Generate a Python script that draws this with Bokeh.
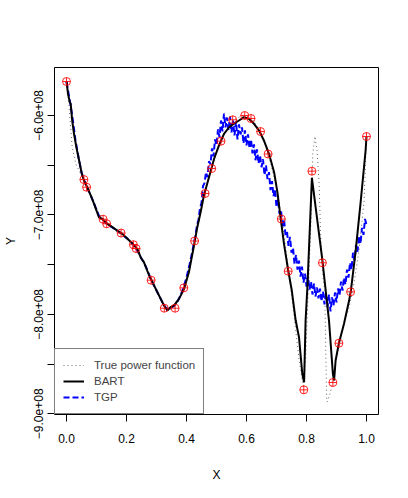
from bokeh.plotting import figure
from bokeh.models import Range1d, FixedTicker, Legend, LegendItem
from bokeh.embed import file_html
from bokeh.resources import INLINE

# ---- data ----
x_ticks = [0.0, 0.2, 0.4, 0.6, 0.8, 1.0]
x_tick_labels = ["0.0", "0.2", "0.4", "0.6", "0.8", "1.0"]
y_ticks = [-9.0e8, -8.5e8, -8.0e8, -7.5e8, -7.0e8, -6.5e8, -6.0e8]
y_tick_labels = ["\u22129.0e+08", "", "\u22128.0e+08", "", "\u22127.0e+08", "", "\u22126.0e+08"]

design_x = [0.000, 0.058, 0.067, 0.122, 0.134, 0.182, 0.223, 0.232, 0.282, 0.326,
            0.362, 0.391, 0.427, 0.462, 0.484, 0.515, 0.554, 0.594, 0.615, 0.647,
            0.672, 0.716, 0.739, 0.791, 0.818, 0.853, 0.888, 0.908, 0.947, 1.000]
design_y = [-5.658e8, -6.644e8, -6.721e8, -7.043e8, -7.089e8, -7.182e8, -7.299e8, -7.338e8, -7.656e8, -7.938e8,
            -7.938e8, -7.733e8, -7.262e8, -6.784e8, -6.533e8, -6.258e8, -6.043e8, -6.000e8, -6.030e8, -6.161e8,
            -6.387e8, -7.041e8, -7.566e8, -8.759e8, -6.560e8, -7.481e8, -8.685e8, -8.290e8, -7.773e8, -6.211e8]

true_x = [0.000, 0.008, 0.012, 0.019, 0.031, 0.047, 0.058, 0.070, 0.090, 0.110, 0.130, 0.150, 0.170,
          0.190, 0.210, 0.230, 0.250, 0.270, 0.290, 0.310, 0.330, 0.345, 0.360, 0.380, 0.400,
          0.420, 0.440, 0.460, 0.480, 0.500, 0.520, 0.540, 0.560, 0.580, 0.600, 0.620, 0.640,
          0.660, 0.680, 0.700, 0.720, 0.740, 0.760, 0.775, 0.790, 0.797, 0.806, 0.815, 0.821,
          0.828, 0.835, 0.842, 0.847, 0.855, 0.861, 0.864, 0.867, 0.869, 0.875, 0.881, 0.892,
          0.908, 0.925, 0.942, 0.958, 0.975, 0.992, 1.000]
true_y = [-5.655e8, -5.882e8, -6.050e8, -6.319e8, -6.486e8, -6.586e8, -6.654e8, -6.730e8, -6.870e8, -6.990e8,
          -7.070e8, -7.120e8, -7.160e8, -7.200e8, -7.260e8, -7.330e8, -7.430e8, -7.560e8, -7.700e8, -7.820e8,
          -7.920e8, -7.950e8, -7.920e8, -7.820e8, -7.650e8, -7.370e8, -7.070e8, -6.800e8, -6.570e8, -6.370e8,
          -6.220e8, -6.110e8, -6.040e8, -6.010e8, -6.000e8, -6.040e8, -6.130e8, -6.270e8, -6.470e8, -6.730e8,
          -7.080e8, -7.550e8, -8.050e8, -8.450e8, -8.740e8, -8.450e8, -7.760e8, -7.060e8, -6.390e8,
          -6.210e8, -6.350e8, -6.680e8, -7.190e8, -7.630e8, -7.760e8, -8.330e8, -8.830e8, -8.880e8,
          -8.830e8, -8.770e8, -8.560e8, -8.310e8, -8.100e8, -7.930e8, -7.690e8, -7.360e8, -6.855e8, -6.210e8]

bart_x = [0.000, 0.005, 0.011, 0.014, 0.019, 0.025, 0.033, 0.042, 0.051, 0.058, 0.069, 0.081, 0.092,
          0.108, 0.119, 0.136, 0.153, 0.169, 0.186, 0.203, 0.219, 0.236, 0.247, 0.258, 0.269, 0.281,
          0.292, 0.303, 0.314, 0.325, 0.336, 0.347, 0.358, 0.375, 0.392, 0.408, 0.425, 0.436, 0.447,
          0.458, 0.475, 0.492, 0.508, 0.525, 0.542, 0.558, 0.575, 0.592, 0.608, 0.625, 0.642, 0.658,
          0.675, 0.692, 0.703, 0.714, 0.725, 0.739, 0.751, 0.764, 0.775, 0.786, 0.792, 0.797, 0.803,
          0.818, 0.853, 0.864, 0.875, 0.888, 0.892, 0.897, 0.908, 0.925, 0.942, 0.948, 0.964, 0.981,
          0.997, 1.000]
bart_y = [-5.655e8, -5.782e8, -5.866e8, -5.882e8, -6.050e8, -6.184e8, -6.319e8, -6.453e8, -6.586e8, -6.654e8,
          -6.721e8, -6.805e8, -6.888e8, -7.023e8, -7.039e8, -7.089e8, -7.123e8, -7.157e8, -7.190e8, -7.240e8,
          -7.284e8, -7.341e8, -7.425e8, -7.475e8, -7.559e8, -7.642e8, -7.710e8, -7.777e8, -7.844e8, -7.911e8,
          -7.961e8, -7.928e8, -7.911e8, -7.844e8, -7.743e8, -7.576e8, -7.307e8, -7.123e8, -6.973e8, -6.805e8,
          -6.621e8, -6.435e8, -6.302e8, -6.184e8, -6.118e8, -6.083e8, -6.050e8, -6.017e8, -6.033e8, -6.083e8,
          -6.151e8, -6.251e8, -6.385e8, -6.570e8, -6.771e8, -7.039e8, -7.290e8, -7.559e8, -7.760e8, -8.062e8,
          -8.230e8, -8.598e8, -8.682e8, -8.062e8, -7.727e8, -6.627e8, -7.458e8, -7.760e8, -8.062e8, -8.598e8,
          -8.665e8, -8.464e8, -8.290e8, -8.095e8, -7.861e8, -7.760e8, -7.358e8, -6.855e8, -6.352e8, -6.211e8]

tgp_x = [0.00, 0.01, 0.02, 0.03, 0.04, 0.05, 0.06, 0.07, 0.08, 0.09, 0.10, 0.11, 0.12, 0.13, 0.14,
         0.15, 0.16, 0.17, 0.18, 0.19, 0.20, 0.21, 0.22, 0.23, 0.24, 0.25, 0.26, 0.27, 0.28, 0.29,
         0.30, 0.31, 0.32, 0.33, 0.34, 0.35, 0.36, 0.37, 0.38, 0.39, 0.40, 0.41,
         0.420, 0.425, 0.430, 0.435, 0.440, 0.445, 0.450, 0.455, 0.460, 0.465, 0.470, 0.475,
         0.480, 0.485, 0.490, 0.495, 0.500, 0.505, 0.510, 0.515, 0.520, 0.525, 0.530, 0.535,
         0.540, 0.545, 0.550, 0.555, 0.560, 0.565, 0.570, 0.575, 0.580, 0.585, 0.590, 0.595,
         0.600, 0.605, 0.610, 0.615, 0.620, 0.625, 0.630, 0.635, 0.640, 0.645, 0.650, 0.655,
         0.660, 0.665, 0.670, 0.675, 0.680, 0.685, 0.690, 0.695, 0.700, 0.705, 0.710, 0.715,
         0.720, 0.725, 0.730, 0.735, 0.740, 0.745, 0.750, 0.755, 0.760, 0.765, 0.770, 0.775,
         0.780, 0.785, 0.790, 0.795, 0.800, 0.805, 0.810, 0.815, 0.820, 0.825, 0.830, 0.835,
         0.840, 0.845, 0.850, 0.855, 0.860, 0.865, 0.870, 0.875, 0.880, 0.885, 0.890, 0.895,
         0.900, 0.905, 0.910, 0.915, 0.920, 0.925, 0.930, 0.935, 0.940, 0.945, 0.950, 0.955,
         0.960, 0.965, 0.970, 0.975, 0.980, 0.985, 0.990, 0.995, 1.000]
tgp_y = [-5.66e8, -5.83e8, -6.02e8, -6.25e8, -6.42e8, -6.57e8, -6.66e8, -6.73e8, -6.80e8, -6.87e8,
         -6.95e8, -7.02e8, -7.04e8, -7.08e8, -7.10e8, -7.12e8, -7.14e8, -7.16e8, -7.18e8, -7.21e8,
         -7.23e8, -7.26e8, -7.29e8, -7.33e8, -7.38e8, -7.44e8, -7.49e8, -7.56e8, -7.64e8, -7.70e8,
         -7.76e8, -7.82e8, -7.88e8, -7.93e8, -7.95e8, -7.93e8, -7.91e8, -7.87e8, -7.81e8, -7.73e8,
         -7.63e8, -7.50e8,
         -7.36e8, -7.27e8, -7.21e8, -7.10e8, -7.05e8, -6.93e8, -6.88e8, -6.71e8, -6.68e8, -6.57e8,
         -6.62e8, -6.46e8, -6.49e8, -6.33e8, -6.41e8, -6.24e8, -6.30e8, -6.14e8, -6.22e8, -6.05e8,
         -6.16e8, -5.98e8, -6.12e8, -6.02e8, -6.15e8, -6.01e8, -6.17e8, -6.05e8, -6.20e8, -6.06e8,
         -6.24e8, -6.09e8, -6.19e8, -6.12e8, -6.28e8, -6.15e8, -6.30e8, -6.19e8, -6.33e8, -6.24e8,
         -6.38e8, -6.29e8, -6.45e8, -6.34e8, -6.48e8, -6.40e8, -6.52e8, -6.44e8, -6.60e8, -6.50e8,
         -6.64e8, -6.57e8, -6.75e8, -6.66e8, -6.81e8, -6.74e8, -6.92e8, -6.84e8, -6.99e8, -6.95e8,
         -7.13e8, -7.04e8, -7.20e8, -7.17e8, -7.31e8, -7.22e8, -7.38e8, -7.33e8, -7.49e8, -7.40e8,
         -7.55e8, -7.46e8, -7.62e8, -7.52e8, -7.68e8, -7.59e8, -7.72e8, -7.62e8, -7.75e8, -7.67e8,
         -7.80e8, -7.69e8, -7.82e8, -7.73e8, -7.84e8, -7.74e8, -7.87e8, -7.77e8, -7.90e8, -7.79e8,
         -7.93e8, -7.80e8, -7.97e8, -7.83e8, -7.91e8, -7.78e8, -7.88e8, -7.74e8, -7.81e8, -7.67e8,
         -7.76e8, -7.63e8, -7.70e8, -7.55e8, -7.63e8, -7.48e8, -7.55e8, -7.38e8, -7.46e8, -7.30e8,
         -7.37e8, -7.21e8, -7.29e8, -7.13e8, -7.20e8, -7.04e8, -7.10e8]

legend_labels = ["True power function", "BART", "TGP"]

FONT = "Liberation Sans"

p = figure(frame_width=324, frame_height=347,
           min_border_left=47, min_border_top=67, min_border_right=20, min_border_bottom=76,
           x_range=Range1d(-0.04, 1.04), y_range=Range1d(-9.007e8, -5.517e8),
           output_backend="svg", toolbar_location=None,
           x_axis_label="X", y_axis_label="Y")

p.xgrid.visible = False
p.ygrid.visible = False
p.outline_line_color = "black"
p.outline_line_width = 1
p.outline_line_alpha = 1
p.background_fill_color = "white"
p.border_fill_color = "white"

p.xaxis.ticker = FixedTicker(ticks=x_ticks)
p.xaxis.major_label_overrides = dict(zip(x_ticks, x_tick_labels))
p.yaxis.ticker = FixedTicker(ticks=y_ticks)
p.yaxis.major_label_overrides = dict(zip(y_ticks, y_tick_labels))
p.yaxis.major_label_orientation = "vertical"

for ax in (p.xaxis[0], p.yaxis[0]):
    ax.axis_line_color = None
    ax.major_tick_out = 7
    ax.major_tick_in = 0
    ax.minor_tick_out = 0
    ax.minor_tick_in = 0
    ax.major_tick_line_color = "black"
    ax.major_label_text_font = FONT
    ax.major_label_text_font_size = "12px"
    ax.major_label_text_color = "black"
    ax.axis_label_text_font = FONT
    ax.axis_label_text_font_size = "12px"
    ax.axis_label_text_font_style = "normal"
    ax.axis_label_text_color = "black"

p.xaxis.major_label_standoff = 12
p.xaxis.axis_label_standoff = 22
p.yaxis.major_label_standoff = 4
p.yaxis.axis_label_standoff = 14

r_true = p.line(true_x, true_y, line_color="#666666", line_width=1, line_dash="1 3")
r_tgp = p.line(tgp_x, tgp_y, line_color="blue", line_width=2, line_dash="6 3")
r_bart = p.line(bart_x, bart_y, line_color="black", line_width=2)
p.scatter(design_x, design_y, marker="circle_cross", size=8,
          line_color="red", fill_color=None, line_width=1, line_alpha=0.85)

legend = Legend(items=[LegendItem(label=legend_labels[0], renderers=[r_true]),
                       LegendItem(label=legend_labels[1], renderers=[r_bart]),
                       LegendItem(label=legend_labels[2], renderers=[r_tgp])],
                location="bottom_left", margin=0, padding=8, spacing=0,
                glyph_width=21, glyph_height=16, label_height=16, label_standoff=10,
                label_text_font=FONT, label_text_font_size="11.5px",
                border_line_color="black", border_line_width=1,
                background_fill_color="white", background_fill_alpha=1)
p.add_layout(legend, "center")

open("out.html", "w").write(file_html(p, INLINE))
